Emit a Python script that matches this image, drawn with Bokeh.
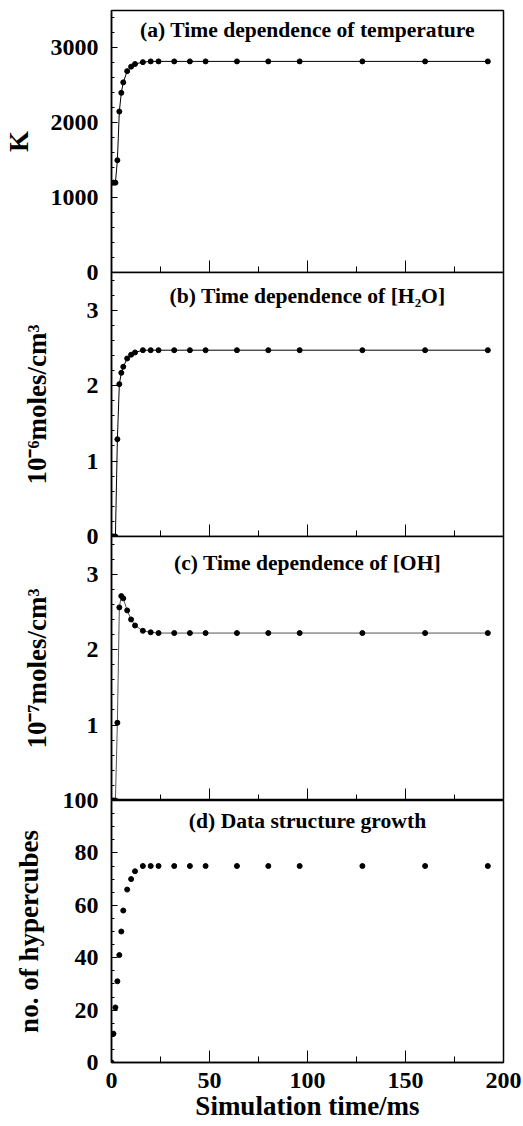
from bokeh.plotting import figure
from bokeh.models import Range1d, SingleIntervalTicker, Label
from bokeh.layouts import column
from bokeh.embed import file_html
from bokeh.resources import INLINE

# ---- data ----
time_ms = [0, 1, 2, 3, 4, 5, 6, 8, 10, 12, 16, 20, 24, 32, 40, 48, 64, 80, 96, 128, 160, 192]
temperature_K = [1200, 1200, 1200, 1500, 2150, 2400, 2540, 2690, 2750, 2785, 2810, 2820,
                 2820, 2820, 2820, 2820, 2820, 2820, 2820, 2820, 2820, 2820]
h2o_conc = [0, 0, 0, 1.29, 2.02, 2.17, 2.25, 2.36, 2.41, 2.44, 2.47, 2.47,
            2.47, 2.47, 2.47, 2.47, 2.47, 2.47, 2.47, 2.47, 2.47, 2.47]
oh_conc = [0, 0, 0, 1.03, 2.56, 2.71, 2.68, 2.52, 2.40, 2.32, 2.25, 2.23,
           2.22, 2.22, 2.22, 2.22, 2.22, 2.22, 2.22, 2.22, 2.22, 2.22]
hypercubes = [0, 11, 21, 31, 41, 50, 58, 66, 70, 73, 75, 75,
              75, 75, 75, 75, 75, 75, 75, 75, 75, 75]

titles = ["(a) Time dependence of temperature",
          "(b) Time dependence of [H\u2082O]",
          "(c) Time dependence of [OH]",
          "(d) Data structure growth"]
y_labels = ["K", "10\u207b\u2076moles/cm\u00b3", "10\u207b\u2077moles/cm\u00b3", "no. of hypercubes"]
x_label = "Simulation time/ms"

FONT = "Liberation Serif"
x_range = Range1d(0, 200)


def panel(y_end, y_interval, n_minor, ylabel, label_standoff, height, top, bottom, margin,
          title, title_y, show_x_labels=False):
    p = figure(width=521, height=height, x_range=x_range, y_range=Range1d(0, y_end),
               output_backend="svg", toolbar_location=None,
               min_border_left=109, min_border_right=18,
               min_border_top=top, min_border_bottom=bottom, margin=margin,
               border_fill_color=None, background_fill_color="white",
               outline_line_color="black", outline_line_width=1.5, outline_line_alpha=1.0)
    p.grid.visible = False

    ya = p.yaxis[0]
    ya.ticker = SingleIntervalTicker(interval=y_interval, num_minor_ticks=n_minor)
    ya.major_tick_in = 6
    ya.major_tick_out = 0
    ya.minor_tick_in = 3
    ya.minor_tick_out = 0
    ya.axis_line_width = 1.5
    ya.major_label_standoff = 13
    ya.major_label_text_font = FONT
    ya.major_label_text_font_size = "24px"
    ya.major_label_text_font_style = "bold"
    ya.major_label_text_color = "black"
    ya.axis_label = ylabel
    ya.axis_label_text_font = FONT
    ya.axis_label_text_font_size = "27px"
    ya.axis_label_text_font_style = "bold"
    ya.axis_label_text_color = "black"
    ya.axis_label_standoff = label_standoff

    xa = p.xaxis[0]
    xa.ticker = SingleIntervalTicker(interval=50, num_minor_ticks=2)
    xa.major_tick_in = 12
    xa.major_tick_out = 0
    xa.minor_tick_in = 6
    xa.minor_tick_out = 0
    xa.axis_line_width = 1.5
    if show_x_labels:
        xa.major_label_standoff = 10
        xa.major_label_text_font = FONT
        xa.major_label_text_font_size = "24px"
        xa.major_label_text_font_style = "bold"
        xa.major_label_text_color = "black"
        xa.axis_label = x_label
        xa.axis_label_text_font = FONT
        xa.axis_label_text_font_size = "27px"
        xa.axis_label_text_font_style = "bold"
        xa.axis_label_text_color = "black"
        xa.axis_label_standoff = 0
    else:
        xa.fixed_location = 0
        xa.major_label_text_font_size = "0px"
        xa.major_label_text_color = None

    p.add_layout(Label(x=100, y=title_y, text=title, text_align="center",
                       text_baseline="middle", text_font=FONT, text_font_size="21.6px",
                       text_font_style="bold", text_color="black"))
    return p


pa = panel(3500, 1000, 5, y_labels[0], 14, 284, 10, 12, (0, 0, -12, 0), titles[0], 3233)
pa.line(time_ms, temperature_K, line_color="black", line_width=1)
pa.scatter(time_ms, temperature_K, size=5, color="black")

pb = panel(3.5, 1, 5, y_labels[1], 32, 276, 0, 12, (0, 0, -12, 0), titles[1], 3.19)
pb.line(time_ms, h2o_conc, line_color="black", line_width=1)
pb.scatter(time_ms, h2o_conc, size=5, color="black")

pc = panel(3.5, 1, 5, y_labels[2], 32, 264, 0, 0, (0, 0, 0, 0), titles[2], 3.15)
pc.yaxis[0].major_label_overrides = {0: ""}
pc.line(time_ms, oh_conc, line_color="#555555", line_width=1)
pc.scatter(time_ms, oh_conc, size=5, color="black")

pd = panel(100, 20, 4, y_labels[3], 16, 336, 12, 62, (-12, 0, 0, 0), titles[3], 92.25,
           show_x_labels=True)
pd.scatter(time_ms, hypercubes, size=5, color="black")

layout = column(pa, pb, pc, pd, spacing=0)
open("out.html", "w").write(file_html(layout, INLINE))
